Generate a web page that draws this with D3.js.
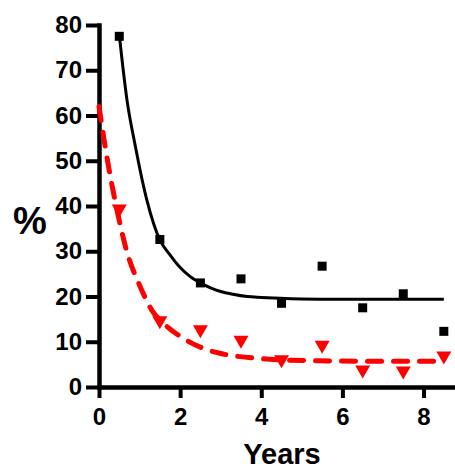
<html>
<head>
<script src="https://d3js.org/d3.v7.min.js"></script>
<style>
  body { margin: 0; background: white; }
  * { font-family: Arial, "Liberation Sans", sans-serif; }
  .axis text { font-size: 24px; font-weight: bold; fill: black; }
  .axis line { stroke: black; stroke-width: 4; }
  .axis .domain { stroke: black; stroke-width: 4.5; }
  .label { font-weight: bold; fill: black; }
</style>
</head>
<body>
<svg id="chart" width="455" height="469"></svg>
<script>
  // data
  const xTicks = [0, 2, 4, 6, 8];
  const yTicks = [0, 10, 20, 30, 40, 50, 60, 70, 80];
  const years = [0.5, 1.5, 2.5, 3.5, 4.5, 5.5, 6.5, 7.5, 8.5];
  const blackValues = [77.5, 32.6, 23.0, 23.9, 18.5, 26.7, 17.5, 20.6, 12.3];
  const redValues = [38.9, 14.2, 12.2, 9.9, 5.6, 8.8, 3.3, 3.1, 6.4];

  // fitted curves
  const blackFitX = [0.5, 0.69, 0.89, 1.18, 1.5, 1.75, 2.0, 2.25, 2.5, 2.75, 3.0, 3.3, 3.65, 4.0, 4.46, 5.44, 8.5];
  const blackFitY = [77.8, 63.4, 53.5, 41.3, 32.5, 29.2, 26.4, 24.4, 23.0, 21.9, 21.1, 20.5, 20.0, 19.8, 19.6, 19.4, 19.4];
  const redFitX = [0, 0.22, 0.4, 0.7, 1.0, 1.3, 1.6, 2.0, 2.5, 3.0, 3.7, 4.5, 5.4, 6.5, 8.5];
  const redFitY = [62, 49.5, 41, 29.5, 22.5, 17, 14, 11.2, 8.8, 7.4, 6.5, 6.0, 5.8, 5.7, 5.7];

  const svg = d3.select("#chart");
  const margins = { top: 25, right: 0, bottom: 82, left: 99 };
  const width = +svg.attr("width");
  const height = +svg.attr("height");

  const x = d3.scaleLinear().domain([0, 8.8]).range([margins.left, width + 1]);
  const y = d3.scaleLinear().domain([0, 80]).range([height - margins.bottom, margins.top]);

  // axes
  svg.append("g")
    .attr("class", "axis")
    .attr("transform", `translate(${margins.left},0)`)
    .call(d3.axisLeft(y).tickValues(yTicks).tickSizeInner(13).tickSizeOuter(0).tickPadding(4));

  svg.append("g")
    .attr("class", "axis")
    .attr("transform", `translate(0,${y(0)})`)
    .call(d3.axisBottom(x).tickValues(xTicks).tickSizeInner(11).tickSizeOuter(0).tickPadding(10));

  svg.selectAll(".domain").attr("stroke-linecap", "square");

  // fit lines
  const blackFit = blackFitX.map((d, i) => ({ x: d, y: blackFitY[i] }));
  const redFit = redFitX.map((d, i) => ({ x: d, y: redFitY[i] }));
  const lineGen = d3.line().x(d => x(d.x)).y(d => y(d.y)).curve(d3.curveMonotoneX);

  svg.append("path")
    .datum(redFit)
    .attr("fill", "none")
    .attr("stroke", "#ff0000")
    .attr("stroke-width", 5)
    .attr("stroke-dasharray", "14,12")
    .attr("stroke-linecap", "round")
    .attr("d", lineGen);

  svg.append("path")
    .datum(blackFit)
    .attr("fill", "none")
    .attr("stroke", "black")
    .attr("stroke-width", 3)
    .attr("d", lineGen);

  // markers
  const downTriangle = {
    draw(ctx, size) {
      const w = Math.sqrt(size), h = w * 0.87;
      ctx.moveTo(-w / 2, -h / 2);
      ctx.lineTo(w / 2, -h / 2);
      ctx.lineTo(0, h / 2);
      ctx.closePath();
    }
  };
  svg.selectAll(".tri").data(years)
    .join("path")
    .attr("class", "tri")
    .attr("fill", "#ff0000")
    .attr("transform", (d, i) => `translate(${x(d)},${y(redValues[i])})`)
    .attr("d", d3.symbol().type(downTriangle).size(225));

  const sq = 9;
  svg.selectAll(".sq").data(years)
    .join("rect")
    .attr("class", "sq")
    .attr("fill", "black")
    .attr("x", d => x(d) - sq / 2)
    .attr("y", (d, i) => y(blackValues[i]) - sq / 2)
    .attr("width", sq)
    .attr("height", sq);

  // axis titles
  svg.append("text")
    .attr("class", "label")
    .attr("x", 30)
    .attr("y", y(36.5) + 12)
    .attr("text-anchor", "middle")
    .style("font-size", "38px")
    .text("%");

  svg.append("text")
    .attr("class", "label")
    .attr("x", 282)
    .attr("y", 464)
    .attr("text-anchor", "middle")
    .style("font-size", "29px")
    .text("Years");
</script>
</body>
</html>
